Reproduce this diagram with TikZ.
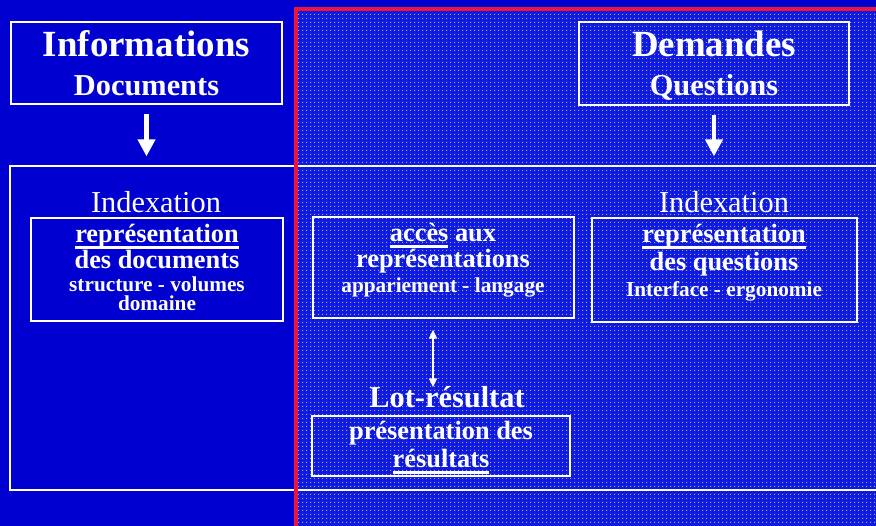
\documentclass[tikz,border=0pt]{standalone}
\usepackage{fontspec}
\setmainfont{Liberation Serif}
\usepackage{tikz}
\usetikzlibrary{arrows.meta,patterns}
\definecolor{fond}{RGB}{0,0,208}
\definecolor{fondpoint}{RGB}{14,26,222}
\definecolor{point}{RGB}{150,160,255}
\definecolor{bord}{RGB}{235,20,60}
\newcommand{\taille}[1]{\fontsize{#1}{#1}\selectfont}
\newcommand{\souligne}[1]{\setbox0\hbox{#1}\leavevmode\rlap{\rule[-3.3pt]{\wd0}{1.6pt}}\box0}
\pgfdeclarepatternformonly{points}{\pgfpointorigin}{\pgfpoint{2.5pt}{2.5pt}}{\pgfpoint{2.5pt}{2.5pt}}{%
  \pgfpathrectangle{\pgfpointorigin}{\pgfpoint{0.8pt}{0.8pt}}\pgfusepath{fill}}

\begin{document}
\begin{tikzpicture}[x=0.02cm,y=-0.02cm,
    cadre/.style={draw=white,line width=0.8pt,inner sep=0pt},
    ligne/.style={text=white,anchor=base,inner sep=0pt},
    titre/.style={ligne,font=\bfseries\taille{21pt}},
    soustitre/.style={ligne,font=\bfseries\taille{17.3pt}},
    index/.style={ligne,font=\taille{17.3pt}},
    moyen/.style={ligne,font=\bfseries\taille{15pt}},
    petit/.style={ligne,font=\bfseries\taille{12.1pt}},
    fleche/.style={white,line width=2.3pt,-{Triangle[length=9.7pt,width=9.7pt]}},
    dfleche/.style={white,line width=1.1pt,{Triangle[length=5pt,width=4.5pt]}-{Triangle[length=5pt,width=4.5pt]}}]
    \useasboundingbox (0,0) rectangle (876,526);
    \clip (0,0) rectangle (876,526);
    % fond
    \fill[fond] (0,0) rectangle (876,526);
    \fill[fondpoint] (296,9) rectangle (876,526);
    \fill[pattern=points,pattern color=point] (298,11) rectangle (876,526);

    % cadres
    \node[cadre,minimum width=5.42cm,minimum height=1.64cm] (info) at (146.5,63) {};
    \node[cadre,minimum width=5.40cm,minimum height=1.66cm] (dem) at (714,63.5) {};
    \node[cadre,minimum width=17.8cm,minimum height=6.48cm] (sys) at (455,328) {};
    \node[cadre,minimum width=5.04cm,minimum height=2.06cm] (docs) at (157,269.5) {};
    \node[cadre,minimum width=5.22cm,minimum height=2.02cm] (acces) at (443.5,267.5) {};
    \node[cadre,minimum width=5.30cm,minimum height=2.08cm] (quest) at (724.5,270) {};
    \node[cadre,minimum width=5.16cm,minimum height=1.20cm] (lot) at (441,446) {};

    \draw[bord,line width=2.3pt] (296,530) -- (296,9) -- (880,9);

    % textes
    \node[titre] (info-a) at (146.5,57) {Informations};
    \node[soustitre] (info-b) at (146.5,96) {Documents};
    \node[titre] (dem-a) at (714,57) {Demandes};
    \node[soustitre] (dem-b) at (714,96) {Questions};

    \node[index] (idx-g) at (156,213) {Indexation};
    \node[moyen] (docs-a) at (157,243) {\souligne{représentation}};
    \node[moyen] (docs-b) at (157,269) {des documents};
    \node[petit] (docs-c) at (157,292) {structure - volumes};
    \node[petit] (docs-d) at (157,311) {domaine};

    \node[moyen] (acces-a) at (443,242) {\souligne{accès}\ aux};
    \node[moyen] (acces-b) at (443,268) {représentations};
    \node[petit] (acces-c) at (443,293) {appariement - langage};

    \node[index] (idx-d) at (724,213) {Indexation};
    \node[moyen] (quest-a) at (724,243) {\souligne{représentation}};
    \node[moyen] (quest-b) at (724,271) {des questions};
    \node[petit] (quest-c) at (724,297) {Interface - ergonomie};

    \node[soustitre] (lot-t) at (447,408) {Lot-résultat};
    \node[moyen] (lot-a) at (441,440) {présentation des};
    \node[moyen] (lot-b) at (441,468) {\souligne{résultats}};

    % fleches
    \draw[fleche,shorten <=5.1pt,shorten >=5.1pt] (info.south) -- (info.south |- sys.north);
    \draw[fleche,shorten <=5.1pt,shorten >=5.1pt] (dem.south) -- (dem.south |- sys.north);
    \coordinate (axe) at (433,318);
    \draw[dfleche,shorten <=6.3pt,shorten >=16pt] (axe |- acces.south) -- (axe |- lot.north);
\end{tikzpicture}
\end{document}
